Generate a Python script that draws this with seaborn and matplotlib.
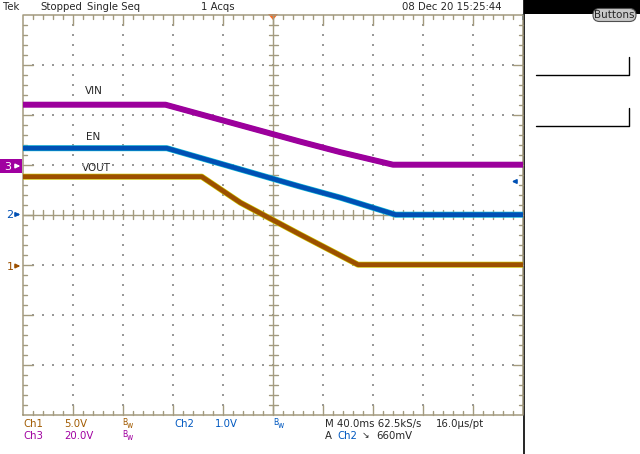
import numpy as np
import pandas as pd
import seaborn as sns
import matplotlib.pyplot as plt
from matplotlib.patches import Rectangle, FancyBboxPatch, Polygon

# time axis in ms (40 ms/div, trigger at centre), values in volts
t_vin = [-200, -86, 22, 54, 96, 200]
v_vin = [24.0, 24.0, 9.2, 5.0, 0.0, 0.0]
t_en = [-200, -85, 22, 54, 98, 200]
v_en = [1.33, 1.33, 0.56, 0.34, 0.0, 0.0]
t_vout = [-200, -57, -26, 22, 68, 200]
v_vout = [8.8, 8.8, 6.2, 3.0, 0.0, 0.0]

volts_per_div = {"VIN": 20.0, "EN": 1.0, "VOUT": 5.0}
offset_div = {"VIN": 1.0, "EN": 0.0, "VOUT": -1.0}
trace_col = {"VIN": "#9c009c", "EN": "#0050b4", "VOUT": "#9c5000"}
halo_col = {"VIN": "#9c009c", "EN": "#10b8d8", "VOUT": "#d0c800"}

rows = []
for name, ts, vs in [("VIN", t_vin, v_vin), ("EN", t_en, v_en), ("VOUT", t_vout, v_vout)]:
    for t, v in zip(ts, vs):
        rows.append({"trace": name, "t": t, "div": v / volts_per_div[name] + offset_div[name]})
df = pd.DataFrame(rows)

sns.set_style("white")
plt.rcParams['font.family'] = ['DejaVu Sans']

W, H = 640, 454
fig = plt.figure(figsize=(W / 100, H / 100), dpi=100)
fig.patch.set_facecolor("white")

# overlay in pixel coordinates for the scope frame / text
ov = fig.add_axes([0, 0, 1, 1])
ov.set_xlim(0, W)
ov.set_ylim(H, 0)
ov.axis("off")

# graticule area: x 23..523, y 14.7..414.7
gx0, gx1, gy0, gy1 = 23, 523, 14.7, 414.7
ax = fig.add_axes([gx0 / W, 1 - gy1 / H, (gx1 - gx0) / W, (gy1 - gy0) / H])
ax.set_xlim(-200, 200)
ax.set_ylim(-4, 4)
ax.axis("off")

grid = "#a39a7e"
# border
ax.plot([-200, 200, 200, -200, -200], [-4, -4, 4, 4, -4], color=grid, lw=1.1, clip_on=False)
# border ticks
for x in np.arange(-192, 200, 8):
    L = 0.2 if x % 40 == 0 else 0.08
    ax.plot([x, x], [4, 4 - L], color=grid, lw=1, clip_on=False)
    ax.plot([x, x], [-4, -4 + L], color=grid, lw=1, clip_on=False)
for y in np.arange(-3.8, 4.0, 0.2):
    L = 8 if abs(y - round(y)) < 1e-6 else 3.2
    ax.plot([-200, -200 + L], [y, y], color=grid, lw=1, clip_on=False)
    ax.plot([200, 200 - L], [y, y], color=grid, lw=1, clip_on=False)
# centre cross
ax.plot([0, 0], [-4, 4], color=grid, lw=1)
ax.plot([-200, 200], [0, 0], color=grid, lw=1)
for x in np.arange(-192, 200, 8):
    ax.plot([x, x], [-0.09, 0.09], color=grid, lw=1)
for y in np.arange(-3.8, 4.0, 0.2):
    ax.plot([-3.6, 3.6], [y, y], color=grid, lw=1)
# dotted grid
dx, dy = [], []
for xg in range(-160, 200, 40):
    if xg == 0:
        continue
    for y in np.arange(-3.8, 4.0, 0.2):
        dx.append(xg); dy.append(y)
for yg in range(-3, 4):
    if yg == 0:
        continue
    for x in np.arange(-192, 200, 8):
        dx.append(x); dy.append(yg)
ax.scatter(dx, dy, s=1.0, marker="s", color="#999999", linewidths=0)

# traces
sns.lineplot(data=df, x="t", y="div", hue="trace", palette=halo_col, lw=4.3,
             estimator=None, sort=False, legend=False, ax=ax)
sns.lineplot(data=df, x="t", y="div", hue="trace", palette=trace_col, lw=3.4,
             estimator=None, sort=False, legend=False, ax=ax)
ax.set_xlim(-200, 200)
ax.set_ylim(-4, 4)
ax.axis("off")

# trace labels
ov.text(85, 91, "VIN", fontsize=7.5, va="center", ha="left")
ov.text(86, 137, "EN", fontsize=7.5, va="center", ha="left")
ov.text(82, 168, "VOUT", fontsize=7.5, va="center", ha="left")

# channel markers on the left
ov.add_patch(Rectangle((0, 159), 22, 14, color="#a000a0", lw=0))
ov.text(8, 166.5, "3", color="white", fontsize=8, va="center", ha="center")
ov.annotate("", xy=(23, 166), xytext=(14, 166),
            arrowprops=dict(arrowstyle="-|>", color="white", lw=1.2, mutation_scale=6))
ov.text(10, 214.5, "2", color="#0050b4", fontsize=8, va="center", ha="center")
ov.annotate("", xy=(23, 214.5), xytext=(14, 214.5),
            arrowprops=dict(arrowstyle="-|>", color="#0050b4", lw=1.2, mutation_scale=6))
ov.text(10, 266.5, "1", color="#9c5000", fontsize=8, va="center", ha="center")
ov.annotate("", xy=(23, 266), xytext=(14, 266),
            arrowprops=dict(arrowstyle="-|>", color="#9c5000", lw=1.2, mutation_scale=6))
# trigger level arrow on the right
ov.annotate("", xy=(509, 181.5), xytext=(519, 181.5),
            arrowprops=dict(arrowstyle="-|>", color="#0050b4", lw=1.2, mutation_scale=6))
# trigger position marker
ov.add_patch(Polygon([[268, 14], [278, 14], [273, 20]], closed=True, color="#ff6a20", lw=0))
ov.add_patch(Rectangle((521.5, 14), 2.5, 6, color="#2060b0", lw=0))

# right side panel
ov.add_patch(Rectangle((524, 0), 116, 13.5, color="black", lw=0))
ov.plot([524, 524], [0, H], color="black", lw=1.2)
ov.add_patch(FancyBboxPatch((593, 8.5), 43, 13, boxstyle="round,pad=0,rounding_size=6.5",
                            fc="#c8c8c8", ec="#505050", lw=0.8))
ov.text(614.5, 15.5, "Buttons", fontsize=7.5, ha="center", va="center")
ov.plot([536, 629, 629], [74.5, 74.5, 57], color="black", lw=1)
ov.plot([536, 629, 629], [126, 126, 108], color="black", lw=1)

# top status line
fs = 7.3
ov.text(3, 6.5, "Tek", fontsize=fs, va="center")
ov.text(40, 6.5, "Stopped", fontsize=fs, va="center")
ov.text(87, 6.5, "Single Seq", fontsize=fs, va="center")
ov.text(201, 6.5, "1 Acqs", fontsize=fs, va="center")
ov.text(402, 6.5, "08 Dec 20 15:25:44", fontsize=fs, va="center")

# bottom readouts
c1, c2, c3 = "#a05a00", "#0058c0", "#a000a0"
r1, r2 = 424, 436


def bw(x, y, c):
    ov.text(x, y - 1.5, "B", fontsize=5.5, color=c, va="center")
    ov.text(x + 5, y + 1, "w", fontsize=5.5, color=c, va="center")


ov.text(23, r1, "Ch1", fontsize=fs, color=c1, va="center")
ov.text(64, r1, "5.0V", fontsize=fs, color=c1, va="center")
bw(122, r1, c1)
ov.text(174, r1, "Ch2", fontsize=fs, color=c2, va="center")
ov.text(215, r1, "1.0V", fontsize=fs, color=c2, va="center")
bw(273, r1, c2)
ov.text(325, r1, "M 40.0ms 62.5kS/s", fontsize=fs, va="center")
ov.text(436, r1, "16.0\u00b5s/pt", fontsize=fs, va="center")
ov.text(23, r2, "Ch3", fontsize=fs, color=c3, va="center")
ov.text(64, r2, "20.0V", fontsize=fs, color=c3, va="center")
bw(122, r2, c3)
ov.text(325, r2, "A", fontsize=fs, va="center")
ov.text(337, r2, "Ch2", fontsize=fs, color=c2, va="center")
ov.text(362, r2, "\u2198", fontsize=6.5, va="center")
ov.text(376, r2, "660mV", fontsize=fs, va="center")

fig.savefig("out.png", dpi=100, facecolor="white")
